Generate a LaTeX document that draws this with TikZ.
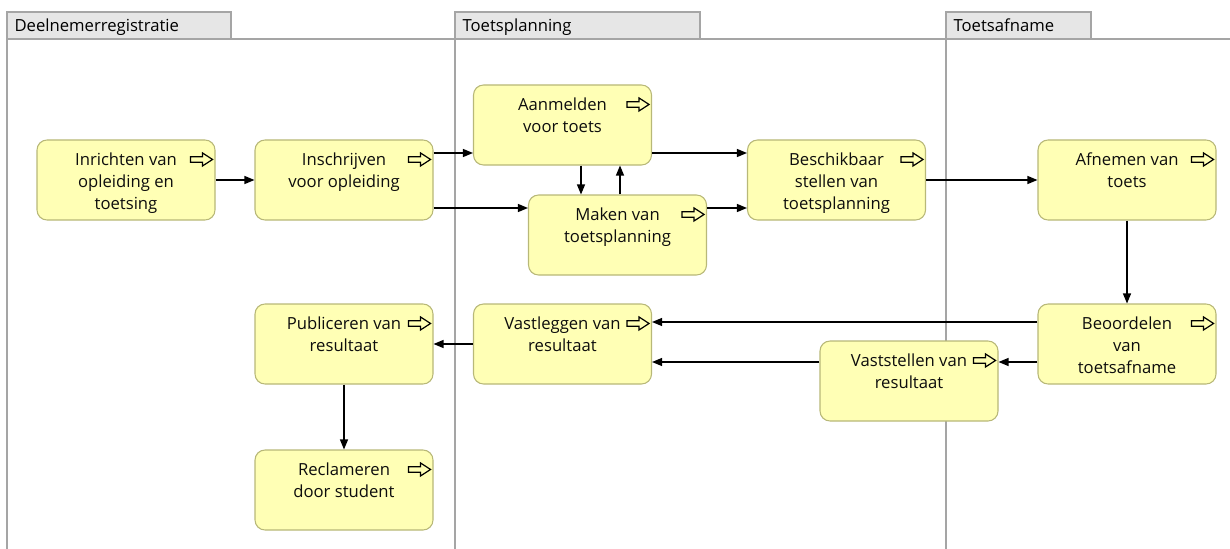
\documentclass[tikz,border=0pt]{standalone}
\usepackage{fontspec}
\setmainfont{Open Sans}
\usetikzlibrary{arrows.meta}
\definecolor{taskfill}{RGB}{255,255,181}
\definecolor{taskline}{RGB}{184,184,120}
\definecolor{lanegray}{RGB}{165,165,165}
\definecolor{tabfill}{RGB}{230,230,230}
\begin{document}
\begin{tikzpicture}[x=0.75pt,y=-0.75pt,font=\fontsize{12.5}{16.5}\selectfont,
	task/.style={draw=taskline, fill=taskfill, line width=0.8pt, rounded corners=7.5pt, minimum width=133.5pt, minimum height=60pt},
	tasktext/.style={anchor=north, yshift=-10pt, align=center, inner sep=0pt, text=black!95},
	flow/.style={-{Triangle[length=7.5pt,width=6pt]}, line width=0.9pt},
	lane/.style={draw=lanegray, line width=2pt},
	tab/.style={draw=lanegray, fill=tabfill, line width=0.8pt},
	tablabel/.style={anchor=base west, inner sep=0pt},
	actionicon/.pic={\draw[line width=0.9pt, miter limit=4] (-11,-2.8) -- (1,-2.8) -- (1,-6.5) -- (11,0) -- (1,6.5) -- (1,2.8) -- (-11,2.8) -- cycle;}]
	\useasboundingbox (0,0) rectangle (1230,549);
	
	%lanes and tabs
	\draw[tab] (7,12) rectangle (231,39) node[tablabel] at (14,31.5) {Deelnemerregistratie};
	\draw[tab] (455,12) rectangle (700,39) node[tablabel] at (462,31.5) {Toetsplanning};
	\draw[tab] (946,12) rectangle (1091,39) node[tablabel] at (953,31.5) {Toetsafname};
	\draw[draw=lanegray, line width=1.1pt] (7,39) -- (1230,39); %top line
	\draw[draw=lanegray, line width=0.8pt] (7,39) -- (7,549); %left border
	\draw[lane] (455,39) -- (455,549); %lane 2
	\draw[lane] (946,39) -- (946,549); %lane 3
	
	%Deelnemerregistratie------------------------
		\node[task, label={[tasktext]north:Inrichten van\\opleiding en\\toetsing}] (inrichten) at (126,180) {};
		\node[task, label={[tasktext]north:Inschrijven\\voor opleiding}] (inschrijven) at (344,180) {};
		\node[task, label={[tasktext]north:Publiceren van\\resultaat}] (publiceren) at (344,344) {};
		\node[task, label={[tasktext]north:Reclameren\\door student}] (reclameren) at (344,490) {};
	
	%Toetsplanning-------------------------------
		\node[task, label={[tasktext]north:Aanmelden\\voor toets}] (aanmelden) at (562.5,125) {};
		\node[task, label={[tasktext]north:Maken van\\toetsplanning}] (maken) at (617.5,235) {};
		\node[task, label={[tasktext]north:Beschikbaar\\stellen van\\toetsplanning}] (beschikbaar) at (836.5,180) {};
		\node[task, label={[tasktext]north:Vastleggen van\\resultaat}] (vastleggen) at (562.5,344) {};
		\node[task, label={[tasktext]north:Vaststellen van\\resultaat}] (vaststellen) at (909,381) {};
	
	%Toetsafname---------------------------------
		\node[task, label={[tasktext]north:Afnemen van\\toets}] (afnemen) at (1127,180) {};
		\node[task, label={[tasktext]north:Beoordelen\\van\\toetsafname}] (beoordelen) at (1127,344) {};
	
	%process icons
	\foreach \t in {inrichten,inschrijven,publiceren,reclameren,aanmelden,maken,beschikbaar,vastleggen,vaststellen,afnemen,beoordelen}
		\pic at ([shift={(-14,20)}]\t.north east) {actionicon};
	
	%flow rows
	\coordinate (rowA) at (0,153);
	\coordinate (rowB) at (0,208);
	\coordinate (rowC) at (0,322);
	\coordinate (rowD) at (0,362);
	
	%flows
	\draw[flow] (inrichten) -- (inschrijven);
	\draw[flow] (inschrijven.east |- rowA) -- (aanmelden.west |- rowA);
	\draw[flow] (inschrijven.east |- rowB) -- (maken.west |- rowB);
	\draw[flow] (aanmelden.south -| 581,0) -- (maken.north -| 581,0); %down
	\draw[flow] (maken.north -| 620,0) -- (aanmelden.south -| 620,0); %up
	\draw[flow] (aanmelden.east |- rowA) -- (beschikbaar.west |- rowA);
	\draw[flow] (maken.east |- rowB) -- (beschikbaar.west |- rowB);
	\draw[flow] (beschikbaar) -- (afnemen);
	\draw[flow] (afnemen) -- (beoordelen);
	\draw[flow] (beoordelen.west |- rowC) -- (vastleggen.east |- rowC);
	\draw[flow] (beoordelen.west |- rowD) -- (vaststellen.east |- rowD);
	\draw[flow] (vaststellen.west |- rowD) -- (vastleggen.east |- rowD);
	\draw[flow] (vastleggen) -- (publiceren);
	\draw[flow] (publiceren) -- (reclameren);
\end{tikzpicture}
\end{document}
